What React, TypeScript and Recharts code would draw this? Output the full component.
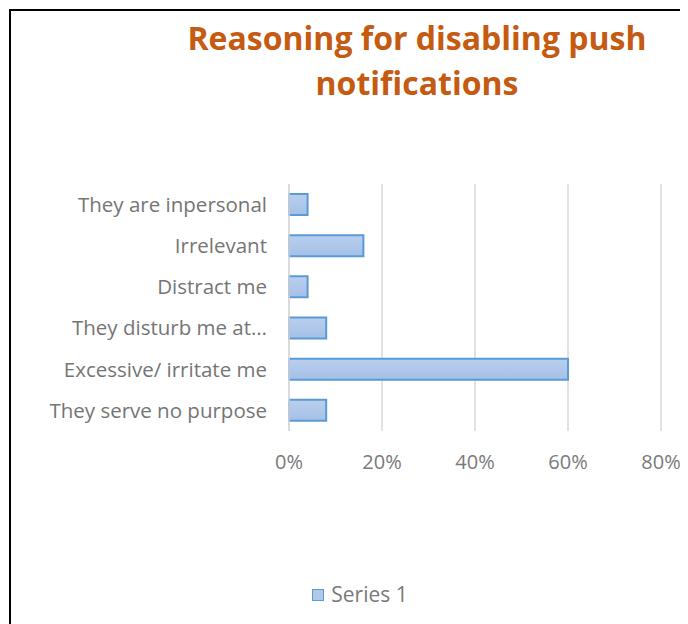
import { BarChart, Bar, XAxis, YAxis, CartesianGrid, Legend } from "recharts";

const reasons = [
  "They are inpersonal",
  "Irrelevant",
  "Distract me",
  "They disturb me at…",
  "Excessive/ irritate me",
  "They serve no purpose",
];
const shares = [0.04, 0.16, 0.04, 0.08, 0.6, 0.08];
const pctTicks = [0, 0.2, 0.4, 0.6, 0.8];

const data = reasons.map((reason, i) => ({ reason, value: shares[i] }));

const font = "'Open Sans', sans-serif";

function SeriesLegend() {
  return (
    <div style={{ display: "flex", alignItems: "center", justifyContent: "center", fontFamily: font, fontSize: 21, color: "#7a7a7a" }}>
      <span
        style={{
          display: "inline-block",
          flexShrink: 0,
          boxSizing: "border-box",
          width: 12,
          height: 12,
          border: "1.5px solid #5b9bd5",
          background: "#b0c8ea",
          marginRight: 7,
          marginTop: 1,
        }}
      />
      Series 1
    </div>
  );
}

export default function App() {
  return (
    <div
      style={{
        position: "relative",
        top: 1,
        left: 1,
        width: 680,
        height: 616,
        boxSizing: "border-box",
        borderTop: "2px solid #000",
        borderLeft: "2px solid #000",
        background: "#fff",
      }}
    >
      <div
        style={{
          position: "absolute",
          top: 4,
          left: 106,
          width: 600,
          textAlign: "center",
          fontFamily: font,
          fontWeight: 700,
          fontSize: 32,
          lineHeight: "45px",
          color: "#c55a11",
        }}
      >
        Reasoning for disabling push
        <br />
        notifications
      </div>
      <BarChart
        width={678}
        height={612}
        data={data}
        layout="vertical"
        margin={{ top: 173, right: 28, left: 0, bottom: 152 }}
      >
        <defs>
          <linearGradient id="barFill" x1="0" y1="0" x2="0" y2="1">
            <stop offset="0%" stopColor="#b9cfee" />
            <stop offset="100%" stopColor="#a5c0e6" />
          </linearGradient>
        </defs>
        <CartesianGrid horizontal={false} stroke="#d9d9d9" strokeWidth={1.5} />
        <XAxis
          type="number"
          domain={[0, 0.8]}
          ticks={pctTicks}
          tickFormatter={(v: number) => `${Math.round(v * 100)}%`}
          axisLine={false}
          tickLine={false}
          tickMargin={18}
          height={40}
          tick={{ fontSize: 20, fill: "#7a7a7a", fontFamily: font }}
        />
        <YAxis
          type="category"
          dataKey="reason"
          width={278}
          axisLine={{ stroke: "#d9d9d9", strokeWidth: 1.5 }}
          tickLine={false}
          tickMargin={16}
          interval={0}
          tick={{ fontSize: 20.5, fill: "#757575", fontFamily: font }}
        />
        <Legend
          layout="horizontal"
          verticalAlign="middle"
          align="center"
          wrapperStyle={{ top: 569, left: 249, width: 200 }}
          content={() => <SeriesLegend />}
        />
        <Bar
          dataKey="value"
          name="Series 1"
          fill="url(#barFill)"
          stroke="#5b9bd5"
          strokeWidth={2}
          barSize={21}
          isAnimationActive={false}
        />
      </BarChart>
    </div>
  );
}
